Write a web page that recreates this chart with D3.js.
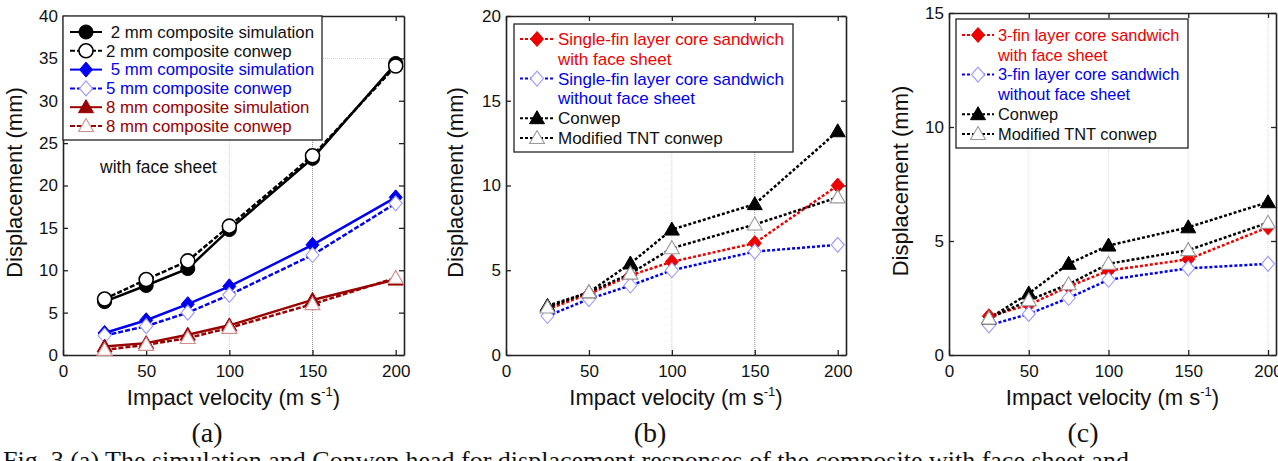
<!DOCTYPE html>
<html>
<head>
<meta charset="utf-8">
<script src="https://cdn.jsdelivr.net/npm/d3@7"></script>
<style>
  body { margin: 0; background: #fff; }
  svg { display: block; }
  text { font-family: "Liberation Sans", Arial, sans-serif; fill: #111; }
  .serif { font-family: "Liberation Serif", "Times New Roman", serif; }
</style>
</head>
<body>
<div id="chart"></div>
<script>
// impact velocities (m/s), shared by all panels
const velocity = [25, 50, 75, 100, 150, 200];

// (a) composites with face sheet
const sim2mm    = [6.3, 8.2, 10.2, 14.8, 23.2, 34.4];
const conwep2mm = [6.6, 8.9, 11.1, 15.2, 23.5, 34.1];
const sim5mm    = [2.6, 4.1, 6.0, 8.1, 13.0, 18.6];
const conwep5mm = [2.3, 3.4, 5.0, 7.1, 11.8, 17.9];
const sim8mm    = [1.0, 1.4, 2.4, 3.5, 6.5, 8.9];
const conwep8mm = [0.6, 1.2, 2.0, 3.2, 6.0, 9.1];

// (b) single-fin layer core sandwich
const singleWith    = [2.7, 3.6, 4.7, 5.5, 6.6, 10.0];
const singleWithout = [2.3, 3.3, 4.1, 5.0, 6.1, 6.5];
const singleConwep  = [2.9, 3.7, 5.4, 7.4, 8.9, 13.2];
const singleModTNT  = [2.8, 3.7, 4.8, 6.3, 7.7, 9.3];

// (c) 3-fin layer core sandwich
const threeWith    = [1.7, 2.2, 3.0, 3.7, 4.2, 5.6];
const threeWithout = [1.3, 1.8, 2.5, 3.3, 3.8, 4.0];
const threeConwep  = [1.6, 2.7, 4.0, 4.8, 5.6, 6.7];
const threeModTNT  = [1.6, 2.4, 3.1, 4.0, 4.6, 5.8];

const xTicks = [0, 50, 100, 150, 200];
const yTicksA = [0, 5, 10, 15, 20, 25, 30, 35, 40];
const yTicksB = [0, 5, 10, 15, 20];
const yTicksC = [0, 5, 10, 15];

const BLUE = "#0000f0", RED = "#ee0000", DARKRED = "#990000";
const SOLID = null, DASHED = "5,2", DOTTED = "3,2";

const panels = [
    {
        left: 63, right: 404, top: 16, bottom: 355, yMax: 40, yTicks: yTicksA,
        yLabelX: 22, caption: "(a)", captionX: 207,
        gridX: [[100, "#d0d0d0"], [150, "#909090"]], gridY: [[35, "#d0d0d0"]],
        legend: {x: 63, y: 16, w: 259, h: 124, symX: 70, textX: 106, row0: 32, step: 18.8, size: 16.8},
        note: {text: "with face sheet", x: 100, y: 173},
        series: [
            {name: " 2 mm composite simulation", values: sim2mm, color: "#000", dash: SOLID, marker: "circle", filled: true},
            {name: "2 mm composite conwep", values: conwep2mm, color: "#000", dash: DASHED, marker: "circle", filled: false, mStroke: "#000"},
            {name: " 5 mm composite simulation", values: sim5mm, color: BLUE, dash: SOLID, marker: "diamond", filled: true},
            {name: "5 mm composite conwep", values: conwep5mm, color: BLUE, dash: DASHED, marker: "diamond", filled: false, mStroke: "#9a9aff"},
            {name: "8 mm composite simulation", values: sim8mm, color: DARKRED, dash: SOLID, marker: "triangle", filled: true},
            {name: "8 mm composite conwep", values: conwep8mm, color: DARKRED, dash: DASHED, marker: "triangle", filled: false, mStroke: "#d09090"}
        ]
    },
    {
        left: 506, right: 846, top: 16, bottom: 355, yMax: 20, yTicks: yTicksB,
        yLabelX: 463, caption: "(b)", captionX: 650,
        gridX: [[100, "#d0d0d0"], [150, "#909090"]], gridY: [],
        legend: {x: 514, y: 24, w: 279, h: 128, symX: 520, textX: 558, row0: 39, step: 19.8, size: 17},
        series: [
            {name: ["Single-fin layer core sandwich", "with face sheet"], values: singleWith, color: RED, dash: DOTTED, marker: "diamond", filled: true},
            {name: ["Single-fin layer core sandwich", "without face sheet"], values: singleWithout, color: BLUE, dash: DOTTED, marker: "diamond", filled: false, mStroke: "#9a9aff"},
            {name: "Conwep", values: singleConwep, color: "#000", dash: DOTTED, marker: "triangle", filled: true},
            {name: "Modified TNT conwep", values: singleModTNT, color: "#000", dash: DOTTED, marker: "triangle", filled: false, mStroke: "#9a9a9a"}
        ]
    },
    {
        left: 949, right: 1276, top: 13, bottom: 355, yMax: 15, yTicks: yTicksC,
        yLabelX: 908, caption: "(c)", captionX: 1083,
        gridX: [[50, "#e0e0e0"], [100, "#e0e0e0"], [150, "#e0e0e0"], [200, "#e0e0e0"]], gridY: [],
        legend: {x: 956, y: 19, w: 232, h: 129, symX: 962, textX: 998, row0: 35, step: 19.8, size: 16.4},
        series: [
            {name: ["3-fin layer core sandwich", "with face sheet"], values: threeWith, color: RED, dash: DOTTED, marker: "diamond", filled: true},
            {name: ["3-fin layer core sandwich", "without face sheet"], values: threeWithout, color: BLUE, dash: DOTTED, marker: "diamond", filled: false, mStroke: "#9a9aff"},
            {name: "Conwep", values: threeConwep, color: "#000", dash: DOTTED, marker: "triangle", filled: true},
            {name: "Modified TNT conwep", values: threeModTNT, color: "#000", dash: DOTTED, marker: "triangle", filled: false, mStroke: "#9a9a9a"}
        ]
    }
];

const svg = d3.select("#chart").append("svg")
    .attr("width", 1278)
    .attr("height", 461);

function markerPath(type) {
    if (type === "circle") return d3.symbol(d3.symbolCircle, 155)();
    if (type === "diamond") return "M0,-7.5L6.5,0L0,7.5L-6.5,0Z";
    return "M0,-7.5L7.5,5.5L-7.5,5.5Z";
}

function drawMarker(g, s, x, y) {
    g.append("path")
        .attr("d", markerPath(s.marker))
        .attr("transform", `translate(${x},${y})`)
        .attr("fill", s.filled ? s.color : "#fff")
        .attr("stroke", s.filled ? s.color : s.mStroke)
        .attr("stroke-width", s.filled ? 1 : (s.marker === "circle" ? 1.6 : 1.1));
}

function drawPanel(p) {
    const g = svg.append("g");
    const x = d3.scaleLinear().domain([0, 205]).range([p.left, p.right]);
    const y = d3.scaleLinear().domain([0, p.yMax]).range([p.bottom, p.top]);

    // faint dotted grid lines
    p.gridX.forEach(([v, c]) => {
        g.append("line")
            .attr("x1", x(v)).attr("x2", x(v))
            .attr("y1", p.top).attr("y2", p.bottom)
            .attr("stroke", c).attr("stroke-dasharray", "1,1");
    });
    p.gridY.forEach(([v, c]) => {
        g.append("line")
            .attr("x1", p.left).attr("x2", p.right)
            .attr("y1", y(v)).attr("y2", y(v))
            .attr("stroke", c).attr("stroke-dasharray", "1,1");
    });

    // axes, ticks pointing inwards on all four sides
    const axes = [
        [d3.axisBottom(x).tickValues(xTicks).tickSizeInner(-5).tickSizeOuter(0).tickPadding(10), `translate(0,${p.bottom})`],
        [d3.axisTop(x).tickValues(xTicks).tickSizeInner(-5).tickSizeOuter(0).tickFormat(""), `translate(0,${p.top})`],
        [d3.axisLeft(y).tickValues(p.yTicks).tickSizeInner(-5).tickSizeOuter(0).tickPadding(5), `translate(${p.left},0)`],
        [d3.axisRight(y).tickValues(p.yTicks).tickSizeInner(-5).tickSizeOuter(0).tickFormat(""), `translate(${p.right},0)`]
    ];
    axes.forEach(([ax, tr]) => {
        const a = g.append("g").attr("transform", tr).call(ax);
        a.select(".domain").attr("stroke", "#222").attr("stroke-width", 1.6);
        a.selectAll(".tick line").attr("stroke", "#222").attr("stroke-width", 1.3);
        a.selectAll(".tick text").attr("font-size", 17).attr("fill", "#111")
            .style("font-family", '"Liberation Sans", Arial, sans-serif');
    });

    // series lines then markers
    const line = d3.line().x((d, i) => x(velocity[i])).y(d => y(d));
    p.series.forEach(s => {
        g.append("path")
            .datum(s.values)
            .attr("d", line)
            .attr("fill", "none")
            .attr("stroke", s.color)
            .attr("stroke-width", 2.5)
            .attr("stroke-dasharray", s.dash);
    });
    p.series.forEach(s => {
        s.values.forEach((v, i) => drawMarker(g, s, x(velocity[i]), y(v)));
    });

    // legend
    const L = p.legend;
    g.append("rect")
        .attr("x", L.x).attr("y", L.y).attr("width", L.w).attr("height", L.h)
        .attr("fill", "#fff").attr("stroke", "#222").attr("stroke-width", 1.3);
    let row = 0;
    p.series.forEach(s => {
        const cy = L.row0 + row * L.step;
        g.append("line")
            .attr("x1", L.symX).attr("x2", L.textX - 4)
            .attr("y1", cy).attr("y2", cy)
            .attr("stroke", s.color).attr("stroke-width", 2)
            .attr("stroke-dasharray", s.dash);
        drawMarker(g, s, (L.symX + L.textX - 4) / 2, cy);
        const lines = Array.isArray(s.name) ? s.name : [s.name];
        lines.forEach((t, k) => {
            g.append("text")
                .attr("x", L.textX).attr("y", cy + k * L.step)
                .attr("dy", "0.35em")
                .attr("font-size", L.size)
                .style("white-space", "pre")
                .style("fill", s.color === "#000" ? "#111" : s.color)
                .text(t);
        });
        row += lines.length;
    });

    if (p.note) {
        g.append("text").attr("x", p.note.x).attr("y", p.note.y)
            .attr("font-size", 17.5).text(p.note.text);
    }

    // axis titles
    g.append("text")
        .attr("transform", `translate(${p.yLabelX},${(p.top + p.bottom) / 2 - 3}) rotate(-90)`)
        .attr("text-anchor", "middle")
        .attr("font-size", 22)
        .text("Displacement (mm)");

    const xl = g.append("text")
        .attr("x", (p.left + p.right) / 2).attr("y", 405)
        .attr("text-anchor", "middle")
        .attr("font-size", 22);
    xl.append("tspan").text("Impact velocity (m s");
    xl.append("tspan").attr("font-size", 13).attr("dy", -9).text("-1");
    xl.append("tspan").attr("dy", 9).text(")");

    g.append("text")
        .attr("class", "serif")
        .attr("x", p.captionX).attr("y", 442)
        .attr("text-anchor", "middle")
        .attr("font-size", 28)
        .text(p.caption);
}

panels.forEach(drawPanel);

// figure caption, cut off by the bottom edge
svg.append("text")
    .attr("class", "serif")
    .attr("x", 3).attr("y", 469)
    .attr("font-size", 26)
    .text("Fig. 3 (a) The simulation and Conwep head for displacement responses of the composite with face sheet and");
</script>
</body>
</html>
